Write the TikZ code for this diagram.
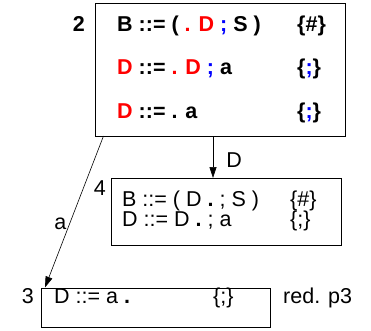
\documentclass[tikz,border=0pt]{standalone}
\usepackage{fontspec}
\setmainfont{Liberation Sans}
\usepackage{xcolor}
\definecolor{ntc}{HTML}{FF0000}
\definecolor{sepc}{HTML}{0000FF}
\usetikzlibrary{arrows.meta}
\tikzset{
  >={Triangle[length=11pt,width=7pt]},
  state/.style={draw,line width=0.6pt,inner sep=0pt},
  item/.style={anchor=base west,inner sep=0pt,font=\fontsize{21.5}{21.5}\selectfont},
  bitem/.style={item,font=\fontsize{21.5}{21.5}\selectfont\bfseries},
  num/.style={item,anchor=base east},
  arr/.style={->,line width=0.6pt},
}
\newcommand{\ntm}[1]{\textcolor{ntc}{#1}}
\newcommand{\sepm}[1]{\textcolor{sepc}{#1}}
\newcommand{\dotm}{\textbf{.}}

\begin{document}
\begin{tikzpicture}[x=1pt,y=-1pt]
\useasboundingbox (0,0) rectangle (371,330);
% states
\node[state,minimum width=250pt,minimum height=133pt] (s2) at (220,69.5) {};
\node[state,minimum width=230pt,minimum height=67pt] (s4) at (226,211.5) {};
\node[state,minimum width=229pt,minimum height=39pt] (s3) at (155.5,307.5) {};
% state 2
\node[num,font=\fontsize{21.5}{21.5}\selectfont\bfseries] (n2) at (85,31) {2};
\node[bitem] (i21) at (117,31) {B ::= ( \ntm{. D} \sepm{;} S )};
\node[bitem] (l21) at (297,31) {\{\#\}};
\node[bitem] (i22) at (117,74) {\ntm{D} ::= \ntm{. D} \sepm{;} a};
\node[bitem] (l22) at (297,74) {\{\sepm{;}\}};
\node[bitem] (i23) at (117,118) {\ntm{D} ::= . a};
\node[bitem] (l23) at (297,118) {\{\sepm{;}\}};
% state 4
\node[num] (n4) at (106,195) {4};
\node[item] (i41) at (122,206) {B ::= ( D \dotm{} ; S )};
\node[item] (l41) at (290,206) {\{\#\}};
\node[item] (i42) at (122,226.5) {D ::= D \dotm{} ; a};
\node[item] (l42) at (290,226.5) {\{;\}};
% state 3
\node[num] (n3) at (34,303) {3};
\node[item] (i31) at (54,303) {D ::= a \dotm};
\node[item] (l31) at (213,303) {\{;\}};
\node[item] (r3) at (283,303) {red. p3};
% transitions
\coordinate (d0) at (213,136);
\coordinate (d1) at (213,178);
\coordinate (a0) at (103.5,136);
\coordinate (a1) at (45,287.5);
\draw[arr] (d0) -- node[item,anchor=base west,pos=0.74,xshift=13pt] (td) {D} (d1);
\draw[arr] (a0) -- node[item,anchor=east,pos=0.58,xshift=-3pt] (ta) {a} (a1);
\end{tikzpicture}
\end{document}
